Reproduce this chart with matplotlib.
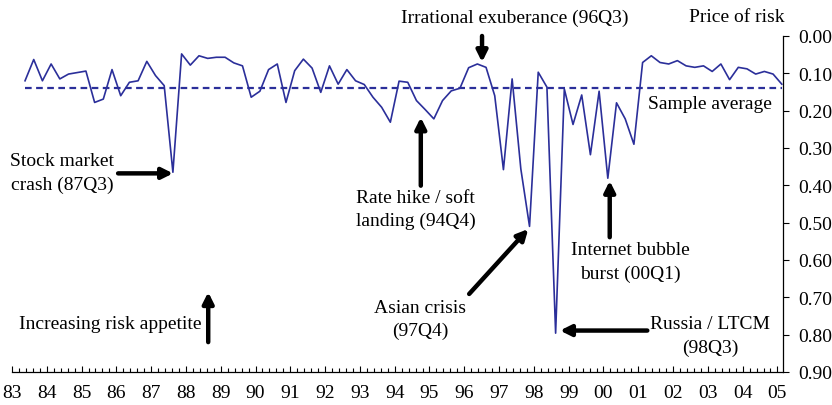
import numpy as np
import matplotlib
matplotlib.use("Agg")
import matplotlib.pyplot as plt
from matplotlib.ticker import MultipleLocator, FormatStrFormatter

plt.rcParams['font.family'] = ['Liberation Serif', 'DejaVu Serif']

# Quarterly price of risk, 83Q2 .. 05Q1
first_quarter = 1983.375
price_of_risk = [
    0.120, 0.063, 0.120, 0.075, 0.115, 0.102, 0.098, 0.094, 0.178, 0.169,
    0.090, 0.160, 0.124, 0.120, 0.068, 0.106, 0.133, 0.365, 0.048, 0.078,
    0.053, 0.060, 0.057, 0.057, 0.072, 0.080, 0.164, 0.148, 0.090, 0.075,
    0.178, 0.093, 0.062, 0.086, 0.151, 0.080, 0.129, 0.090, 0.120, 0.130,
    0.164, 0.191, 0.231, 0.121, 0.124, 0.173, 0.197, 0.222, 0.173, 0.147,
    0.140, 0.085, 0.075, 0.084, 0.160, 0.358, 0.115, 0.356, 0.510, 0.097,
    0.137, 0.796, 0.142, 0.237, 0.158, 0.318, 0.148, 0.381, 0.179, 0.222,
    0.290, 0.071, 0.053, 0.071, 0.075, 0.066, 0.080, 0.084, 0.080, 0.095,
    0.075, 0.117, 0.084, 0.088, 0.102, 0.095, 0.102, 0.129,
]
sample_average = 0.14
years = list(range(1983, 2006))
year_labels = ["%02d" % (y % 100) for y in years]
y_ticks = [0.0, 0.1, 0.2, 0.3, 0.4, 0.5, 0.6, 0.7, 0.8, 0.9]

dates = first_quarter + np.arange(len(price_of_risk)) / 4.0
blue = '#2b2f9a'

fig = plt.figure(figsize=(8.32, 4.06), dpi=100)
ax = fig.add_axes([0.0144, 0.0813, 0.9267, 0.8276])

ax.plot(dates, price_of_risk, color=blue, lw=1.2)
ax.hlines(sample_average, dates[0], dates[-1], colors=blue, lw=1.6,
          linestyles=(0, (3, 2)))

ax.set_xlim(1983, 2005.16)
ax.set_ylim(0.9, 0.0)

for side in ['top', 'left']:
    ax.spines[side].set_visible(False)
ax.spines['bottom'].set_linewidth(0.9)
ax.spines['right'].set_linewidth(0.9)

ax.set_xticks(years)
ax.set_xticklabels(year_labels)
ax.xaxis.set_minor_locator(MultipleLocator(0.2))
ax.tick_params(axis='x', which='major', direction='in', length=4.5, width=0.8,
               pad=9, labelsize=14)
ax.tick_params(axis='x', which='minor', direction='in', length=2.8, width=0.8)

ax.yaxis.tick_right()
ax.set_yticks(y_ticks)
ax.yaxis.set_major_formatter(FormatStrFormatter('%.2f'))
ax.tick_params(axis='y', direction='out', length=4, width=0.8, pad=7,
               labelsize=14)

fs = 14
ax.text(2005.21, -0.051, "Price of risk", ha='right', va='center', fontsize=fs)
ax.text(2003.07, 0.182, "Sample average", ha='center', va='center', fontsize=fs)

arrow = dict(arrowstyle='-|>', lw=3.2, color='black', mutation_scale=16,
             shrinkA=0, shrinkB=0)


def note(text, text_xy, tail, head):
    ax.annotate(text, xy=text_xy, ha='center', va='center', fontsize=fs,
                linespacing=1.45, annotation_clip=False)
    ax.annotate('', xy=head, xytext=tail, arrowprops=arrow,
                annotation_clip=False)


note("Irrational exuberance (96Q3)", (1997.45, -0.051),
     (1996.51, 0.0), (1996.51, 0.07))
note("Stock market\ncrash (87Q3)", (1984.45, 0.366),
     (1986.05, 0.368), (1987.63, 0.368))
note("Rate hike / soft\nlanding (94Q4)", (1994.61, 0.463),
     (1994.75, 0.401), (1994.75, 0.218))
note("Asian crisis\n(97Q4)", (1994.74, 0.759),
     (1996.14, 0.691), (1997.84, 0.517))
note("Internet bubble\nburst (00Q1)", (2000.76, 0.604),
     (2000.18, 0.539), (2000.18, 0.388))
note("Russia / LTCM\n(98Q3)", (2003.06, 0.802),
     (2001.26, 0.789), (1998.75, 0.789))
note("Increasing risk appetite", (1985.83, 0.771),
     (1988.64, 0.820), (1988.64, 0.686))

plt.savefig("out.png", dpi=100)
